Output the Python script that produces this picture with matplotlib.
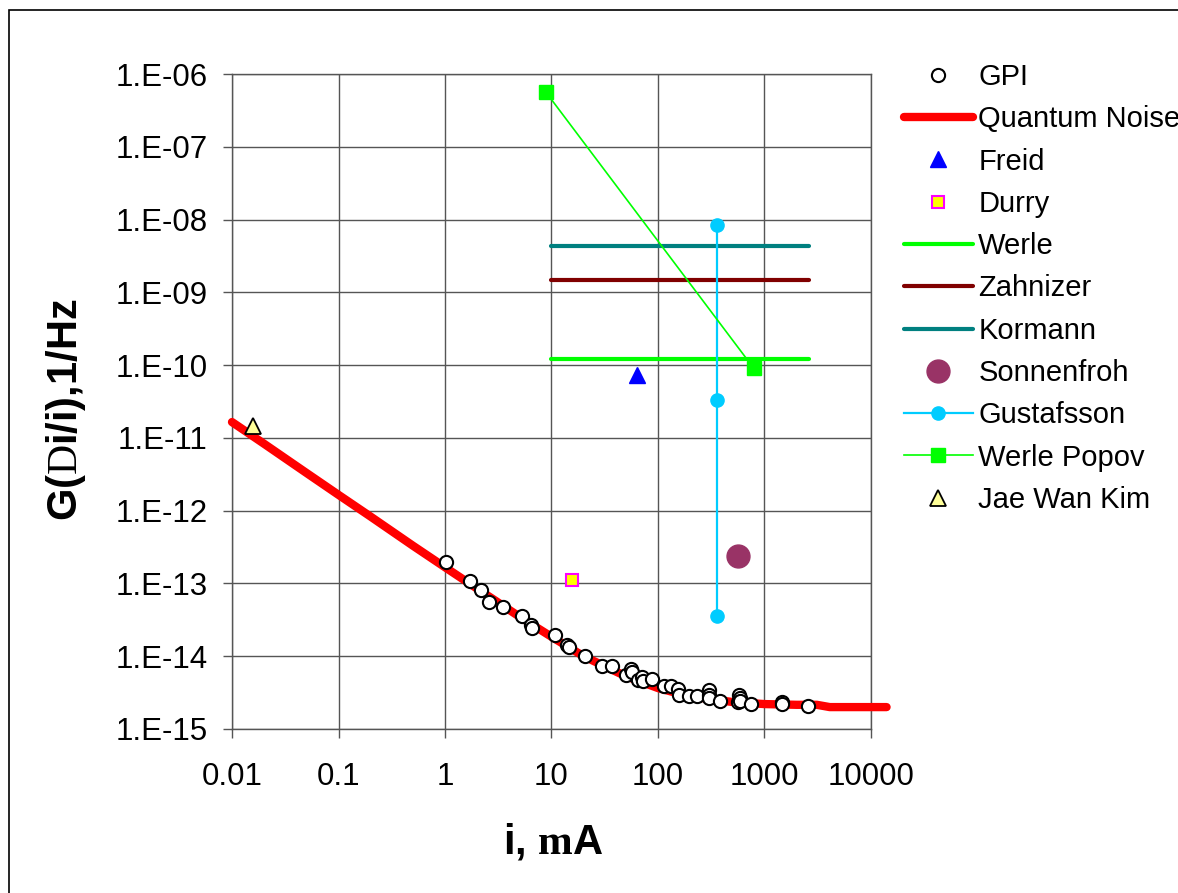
import matplotlib
matplotlib.use("Agg")
import matplotlib.pyplot as plt
from matplotlib.patches import Rectangle
from matplotlib.ticker import FixedLocator, FixedFormatter, NullLocator

plt.rcParams['font.family'] = ['Liberation Sans', 'DejaVu Sans']
plt.rcParams['mathtext.fontset'] = 'custom'
plt.rcParams['mathtext.rm'] = 'Liberation Serif'
plt.rcParams['mathtext.bf'] = 'Liberation Serif:bold'

# =========================
# DATA
# =========================

# GPI measurements
gpi_i = [1.02, 1.71, 2.18, 2.59, 3.5, 5.23, 6.4, 6.5, 10.7, 14.1, 14.6, 20.8,
         29.6, 36.8, 49.8, 55.4, 57.5, 64.9, 71.2, 72, 87.9, 114, 133, 155,
         156, 196, 230, 299, 299, 300, 386, 562, 575, 584, 590, 750, 1450,
         1460, 2560]
gpi_g = [2.0e-13, 1.09e-13, 8.1e-14, 5.6e-14, 4.8e-14, 3.6e-14, 2.7e-14,
         2.46e-14, 1.95e-14, 1.44e-14, 1.32e-14, 1.0e-14, 7.4e-15, 7.4e-15,
         5.5e-15, 6.6e-15, 6.0e-15, 4.7e-15, 5.2e-15, 4.6e-15, 4.9e-15,
         3.9e-15, 3.9e-15, 3.5e-15, 2.95e-15, 2.8e-15, 2.8e-15, 3.4e-15,
         2.9e-15, 2.66e-15, 2.4e-15, 2.33e-15, 2.9e-15, 2.66e-15, 2.45e-15,
         2.2e-15, 2.34e-15, 2.2e-15, 2.1e-15]

# quantum noise curve
qn_i = [0.01, 0.02, 0.05, 0.1, 0.2, 0.5, 1, 2, 5, 10, 20, 50, 100, 200, 500,
        1000, 2000, 3100, 4100, 14000]
qn_g = [1.65e-11, 8.3e-12, 3.3e-12, 1.65e-12, 8.3e-13, 3.3e-13, 1.67e-13,
        8.5e-14, 3.5e-14, 1.85e-14, 1.0e-14, 5.3e-15, 3.65e-15, 2.8e-15,
        2.35e-15, 2.2e-15, 2.15e-15, 2.15e-15, 2.0e-15, 2.0e-15]

freid_i, freid_g = [63], [7.3e-11]
durry_i, durry_g = [15.5], [1.1e-13]
werle_i, werle_g = [10, 2600], [1.2e-10, 1.2e-10]
zahnizer_i, zahnizer_g = [10, 2600], [1.47e-9, 1.47e-9]
kormann_i, kormann_g = [10, 2600], [4.4e-9, 4.4e-9]
sonnen_i, sonnen_g = [560], [2.35e-13]
gustaf_i = [356, 356, 356]
gustaf_g = [8.4e-9, 3.3e-11, 3.6e-14]
popov_i, popov_g = [8.8, 795], [5.7e-7, 9.0e-11]
kim_i, kim_g = [0.0156], [1.45e-11]

x_ticks = [0.01, 0.1, 1, 10, 100, 1000, 10000]
x_tick_labels = ['0.01', '0.1', '1', '10', '100', '1000', '10000']
y_ticks = [1e-15, 1e-14, 1e-13, 1e-12, 1e-11, 1e-10, 1e-9, 1e-8, 1e-7, 1e-6]
y_tick_labels = ['1.E-15', '1.E-14', '1.E-13', '1.E-12', '1.E-11',
                 '1.E-10', '1.E-09', '1.E-08', '1.E-07', '1.E-06']

# =========================
# FIGURE
# =========================

W, H = 1178, 893
fig = plt.figure(figsize=(W / 100, H / 100), dpi=100)
ax = fig.add_axes([232 / W, 1 - 729 / H, (871 - 232) / W, (729 - 74) / H])

gc = '#555555'

ax.plot(gpi_i, gpi_g, 'o', ms=9.5, mfc='white', mec='black', mew=1.5,
        ls='none', label='GPI', zorder=6)
ax.plot(qn_i, qn_g, '-', color='#ff0000', lw=6, solid_capstyle='round',
        label='Quantum Noise', zorder=4, clip_on=False)
ax.plot(freid_i, freid_g, '^', ms=12, color='#0000ff', ls='none',
        label='Freid', zorder=5)
ax.plot(durry_i, durry_g, 's', ms=8.5, mfc='#ffff00', mec='#ff00ff',
        mew=1.5, ls='none', label='Durry', zorder=5)
ax.plot(werle_i, werle_g, '-', color='#00ff00', lw=3, label='Werle',
        solid_capstyle='round', zorder=3)
ax.plot(zahnizer_i, zahnizer_g, '-', color='#800000', lw=3,
        label='Zahnizer', solid_capstyle='round', zorder=3)
ax.plot(kormann_i, kormann_g, '-', color='#008080', lw=3, label='Kormann',
        solid_capstyle='round', zorder=3)
ax.plot(sonnen_i, sonnen_g, 'o', ms=16.5, color='#993366', ls='none',
        label='Sonnenfroh', zorder=5)
ax.plot(gustaf_i, gustaf_g, '-o', color='#00ccff', lw=1.6, ms=9.5,
        label='Gustafsson', zorder=4)
ax.plot(popov_i, popov_g, '-s', color='#00ff00', lw=1.2, ms=9.5,
        label='Werle Popov', zorder=4, clip_on=False)
ax.plot(kim_i, kim_g, '^', ms=11, mfc='#ffff99', mec='black', mew=1.3,
        ls='none', label='Jae Wan Kim', zorder=5)

ax.set_xscale('log')
ax.set_yscale('log')
ax.set_xlim(0.01, 10000)
ax.set_ylim(1e-15, 1e-6)

ax.xaxis.set_major_locator(FixedLocator(x_ticks))
ax.xaxis.set_major_formatter(FixedFormatter(x_tick_labels))
ax.xaxis.set_minor_locator(NullLocator())
ax.yaxis.set_major_locator(FixedLocator(y_ticks))
ax.yaxis.set_major_formatter(FixedFormatter(y_tick_labels))
ax.yaxis.set_minor_locator(NullLocator())

ax.grid(True, color=gc, lw=1.0)
ax.set_axisbelow(True)
for s in ax.spines.values():
    s.set_color(gc)
    s.set_linewidth(1.0)
ax.tick_params(axis='both', labelsize=22.5, length=6.5, width=1.0, color=gc,
               direction='out')
ax.tick_params(axis='x', pad=17)
ax.tick_params(axis='y', pad=11)

# axis titles
fig.text(553 / W, 1 - 842 / H, r'i, $\mathbf{m}$A', fontsize=30,
         fontweight='bold', ha='center', va='center')
fig.text(66 / W, 1 - 410 / H, r'G($\mathrm{D}$i/i),1/Hz', fontsize=30,
         fontweight='bold', ha='center', va='center', rotation=90)

# legend (the reference chart also cuts "Quantum Noise" at the right edge)
fig.legend(loc='upper left', bbox_to_anchor=(904 / W, 1 - 63 / H),
           frameon=False, fontsize=21, handlelength=2.35,
           handletextpad=0.2, labelspacing=0.49, borderpad=0,
           borderaxespad=0, numpoints=1)

# outer border of the chart
fig.patches.append(Rectangle((9 / W, -0.1), 1.5, 1 - 10 / H + 0.1,
                             transform=fig.transFigure, fill=False,
                             ec='black', lw=1.2))

fig.savefig('out.png', dpi=100)
